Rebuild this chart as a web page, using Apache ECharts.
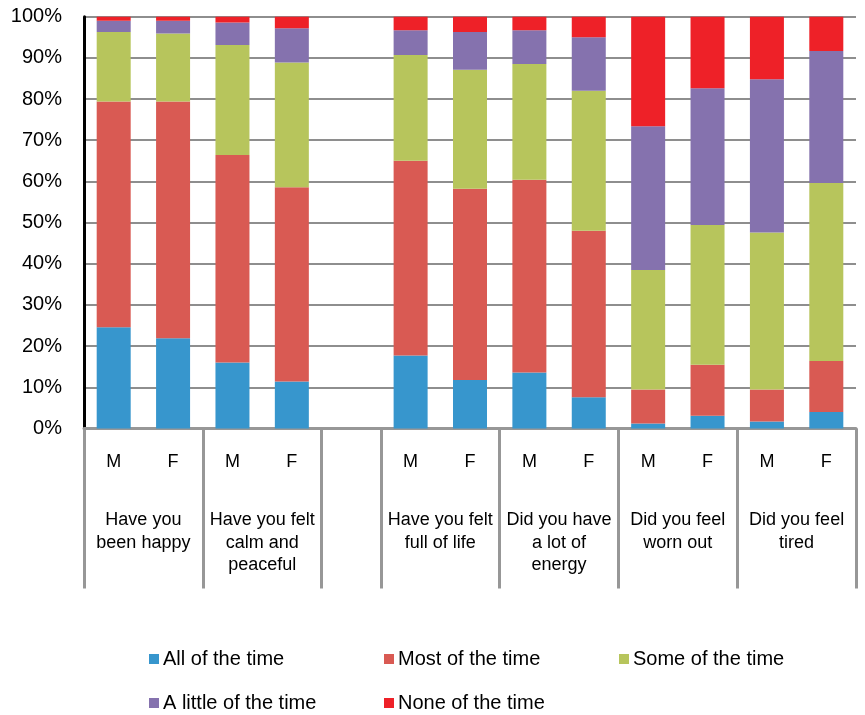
<!DOCTYPE html>
<html>
<head>
<meta charset="utf-8">
<script src="https://cdn.jsdelivr.net/npm/echarts@6/dist/echarts.min.js"></script>
<style>
  html, body { margin: 0; padding: 0; background: #fff; }
  #chart { width: 865px; height: 715px; }
</style>
</head>
<body>
<div id="chart"></div>
<script>
// Survey questions; the empty entry is a spacer between the two question blocks
const questions = [
  'Have you\nbeen happy',
  'Have you felt\ncalm and\npeaceful',
  '',
  'Have you felt\nfull of life',
  'Did you have\na lot of\nenergy',
  'Did you feel\nworn out',
  'Did you feel\ntired'
];
// One slot per bar: sex label and the question it belongs to
const sexes = ['M', 'F', 'M', 'F', '', 'M', 'F', 'M', 'F', 'M', 'F', 'M', 'F'];
const questionOfSlot = [0, 0, 1, 1, 2, 3, 3, 4, 4, 5, 5, 6, 6];

const answerNames = ['All of the time', 'Most of the time', 'Some of the time', 'A little of the time', 'None of the time'];
const answerColors = ['#3796CD', '#D95A53', '#B7C55C', '#8572AE', '#EE2128'];

// Percentage of respondents per answer (spacer slot is null)
const allOfTheTime    = [24.6, 21.9, 16.0, 11.4, null, 17.7, 11.8, 13.6,  7.6,  1.2,  3.1,  1.7,  4.0];
const mostOfTheTime   = [54.8, 57.5, 50.4, 47.2, null, 47.3, 46.4, 46.8, 40.4,  8.3, 12.4,  7.8, 12.4];
const someOfTheTime   = [16.9, 16.5, 26.7, 30.3, null, 25.7, 28.9, 28.1, 34.0, 29.0, 33.9, 38.1, 43.2];
const littleOfTheTime = [ 2.7,  3.1,  5.5,  8.3, null,  6.0,  9.2,  8.2, 13.0, 34.9, 33.2, 37.2, 32.1];
const noneOfTheTime   = [ 1.0,  1.0,  1.4,  2.8, null,  3.3,  3.7,  3.3,  5.0, 26.6, 17.4, 15.2,  8.3];
const answerValues = [allOfTheTime, mostOfTheTime, someOfTheTime, littleOfTheTime, noneOfTheTime];

// Group boundaries and centres, in slot units, derived from questionOfSlot
const boundaries = [0];
const groupCenters = [];
const groupLabelByCenter = {};
let start = 0;
for (let i = 1; i <= questionOfSlot.length; i++) {
  if (i === questionOfSlot.length || questionOfSlot[i] !== questionOfSlot[i - 1]) {
    boundaries.push(i);
    const q = questions[questionOfSlot[start]];
    if (q) {
      const c = (start + i) / 2;
      groupCenters.push(c);
      groupLabelByCenter[c] = q;
    }
    start = i;
  }
}

const FONT = '"Liberation Sans", Arial, sans-serif';
const GRID_GRAY = '#8e8e8e';
const SEP_GRAY = '#979797';

const chart = echarts.init(document.getElementById('chart'), null, { renderer: 'canvas' });

// Legend: three columns per row, one legend component per entry
const LEGEND_COLS = 3;
const legends = answerNames.map((name, k) => ({
  left: 149 + (k % LEGEND_COLS) * 235,
  top: 649 + Math.floor(k / LEGEND_COLS) * 44,
  padding: 0,
  icon: 'rect',
  itemWidth: 10,
  itemHeight: 10,
  selectedMode: false,
  data: [name],
  textStyle: { fontFamily: FONT, fontSize: 20, color: '#000', padding: [0, 0, 0, -1] }
}));

chart.setOption({
  animation: false,
  backgroundColor: '#fff',
  textStyle: { fontFamily: FONT },
  grid: { left: 84, right: 9, top: 16.7, bottom: 286.5, containLabel: false, outerBoundsMode: 'none' },
  legend: legends,
  xAxis: [
    {
      type: 'category',
      data: sexes,
      position: 'bottom',
      axisLine: { show: true, lineStyle: { color: SEP_GRAY, width: 3 } },
      axisTick: { show: false },
      axisLabel: { fontFamily: FONT, fontSize: 18, color: '#000', margin: 25, lineHeight: 18, interval: 0 },
      splitLine: { show: false }
    },
    {
      type: 'value',
      min: 0,
      max: sexes.length,
      position: 'bottom',
      axisLine: { show: false },
      splitLine: { show: false },
      axisTick: {
        show: true,
        customValues: boundaries,
        length: 160,
        lineStyle: { color: SEP_GRAY, width: 3 }
      },
      axisLabel: {
        customValues: groupCenters,
        formatter: v => groupLabelByCenter[v] || '',
        fontFamily: FONT,
        fontSize: 18,
        lineHeight: 22.7,
        color: '#000',
        margin: 80,
        align: 'center'
      }
    }
  ],
  yAxis: {
    type: 'value',
    min: 0,
    max: 100,
    interval: 10,
    axisLine: { show: true, lineStyle: { color: '#000', width: 3 } },
    axisTick: { show: false },
    axisLabel: { formatter: '{value}%', fontFamily: FONT, fontSize: 20, color: '#000', margin: 22 },
    splitLine: { show: true, lineStyle: { color: GRID_GRAY, width: 2 } }
  },
  series: answerNames.map((name, k) => ({
    name: name,
    type: 'bar',
    stack: 'share',
    xAxisIndex: 0,
    barWidth: 34,
    itemStyle: { color: answerColors[k] },
    data: answerValues[k]
  }))
});
</script>
</body>
</html>
